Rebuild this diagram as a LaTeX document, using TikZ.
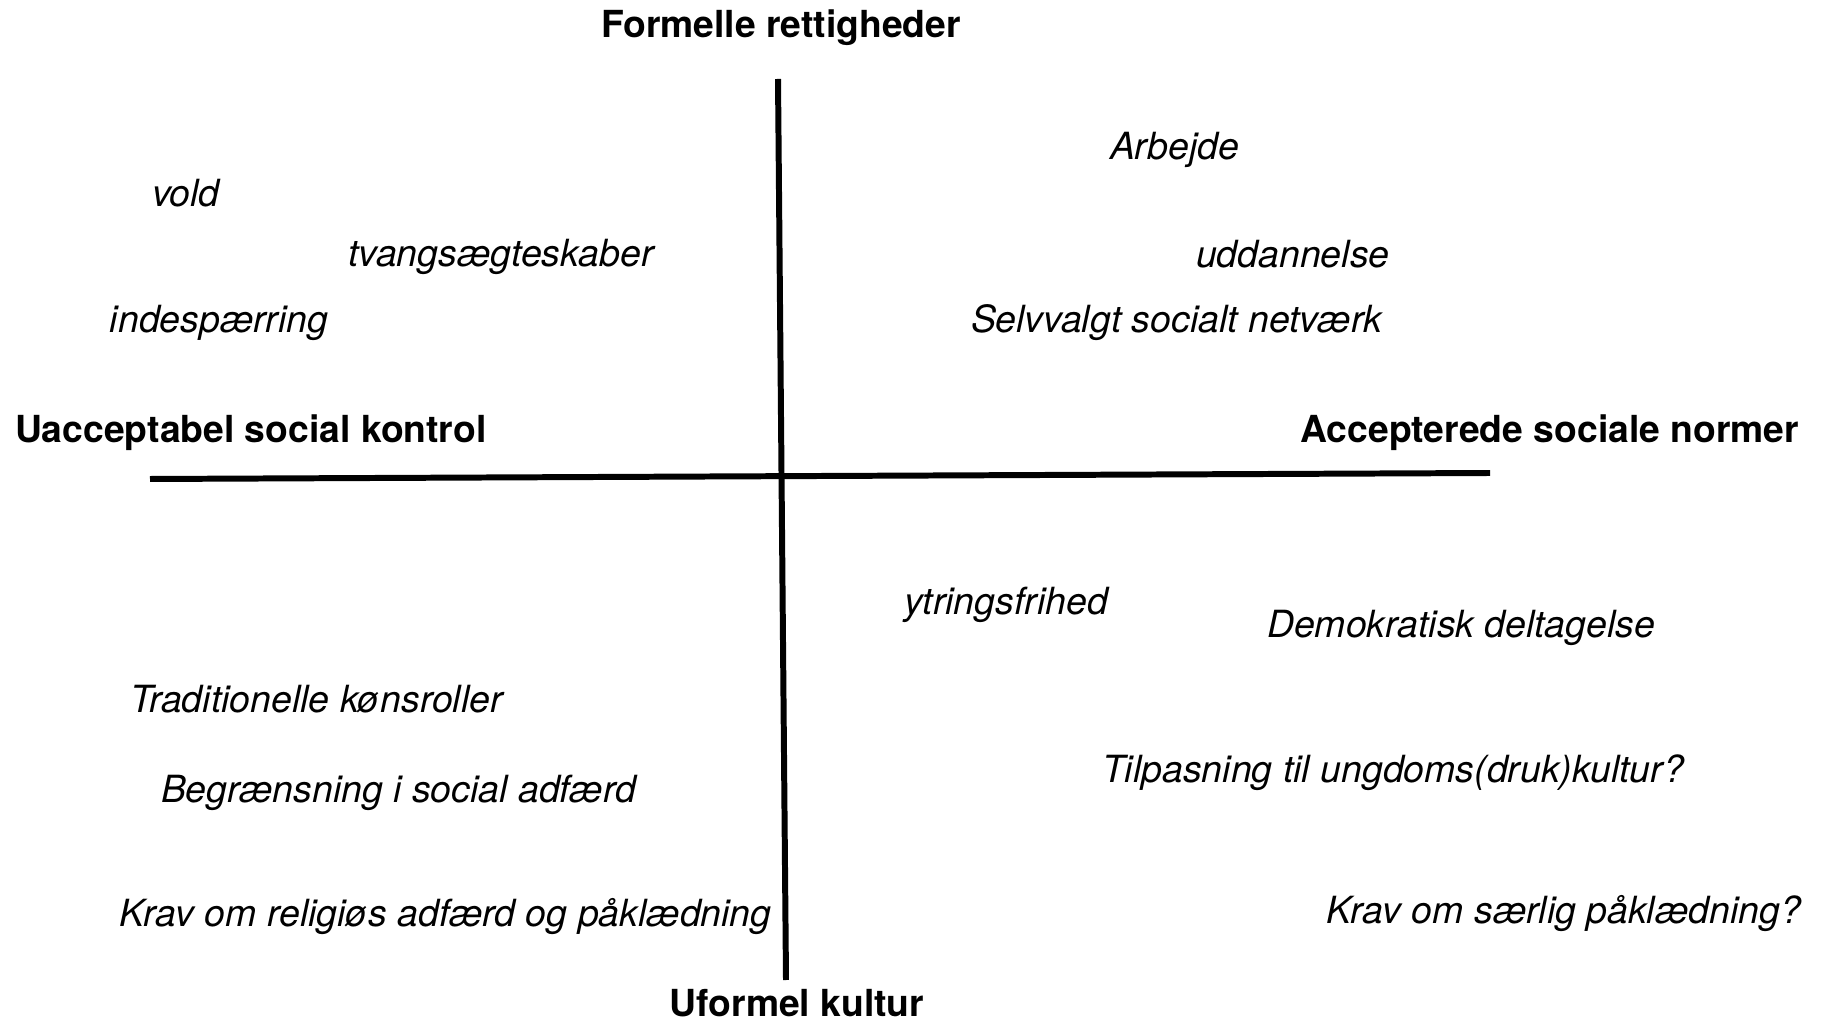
\documentclass[tikz,border=0pt]{standalone}
\usepackage{fontspec}
\setmainfont{TeX Gyre Heros}
\begin{document}
\begin{tikzpicture}[x=0.01cm,y=-0.01cm,
  every node/.style={inner sep=0pt, outer sep=0pt},
  item/.style={font=\fontsize{10.65}{12}\selectfont\itshape, anchor=base west},
  axislabel/.style={font=\fontsize{10.6}{12}\selectfont\bfseries},
  axisline/.style={line width=1.7pt}]
\useasboundingbox (0,0) rectangle (1821,1019);
% axes
\coordinate (vtop) at (778,79);
\coordinate (vbot) at (786,980);
\coordinate (hl) at (150,479);
\coordinate (hr) at (1490,473);
\draw[axisline] (vtop) -- (vbot);
\draw[axisline] (hl) -- (hr);
% axis labels
\node[axislabel, anchor=base] (top) at (781,38) {Formelle rettigheder};
\node[axislabel, anchor=base] (bottom) at (797,1016) {Uformel kultur};
\node[axislabel, anchor=base west] (left) at (15,443) {Uacceptabel social kontrol};
\node[axislabel, anchor=base east] (right) at (1799,443) {Accepterede sociale normer};
% upper left
\node[item] (vold) at (152,207) {vold};
\node[item] (tvang) at (348,267) {tvangsægteskaber};
\node[item] (inde) at (110,333) {indespærring};
% upper right
\node[item] (arb) at (1110,160) {Arbejde};
\node[item] (udd) at (1196,268) {uddannelse};
\node[item] (selv) at (971,333) {Selvvalgt socialt netværk};
% lower left
\node[item] (trad) at (130,712) {Traditionelle kønsroller};
\node[item] (begr) at (161,803) {Begrænsning i social adfærd};
\node[item] (krav1) at (119,926) {Krav om religiøs adfærd og påklædning};
% lower right
\node[item] (ytr) at (904,615) {ytringsfrihed};
\node[item] (demo) at (1267,638) {Demokratisk deltagelse};
\node[item] (tilp) at (1102,783) {Tilpasning til ungdoms(druk)kultur?};
\node[item] (krav2) at (1326,923) {Krav om særlig påklædning?};
\end{tikzpicture}
\end{document}
